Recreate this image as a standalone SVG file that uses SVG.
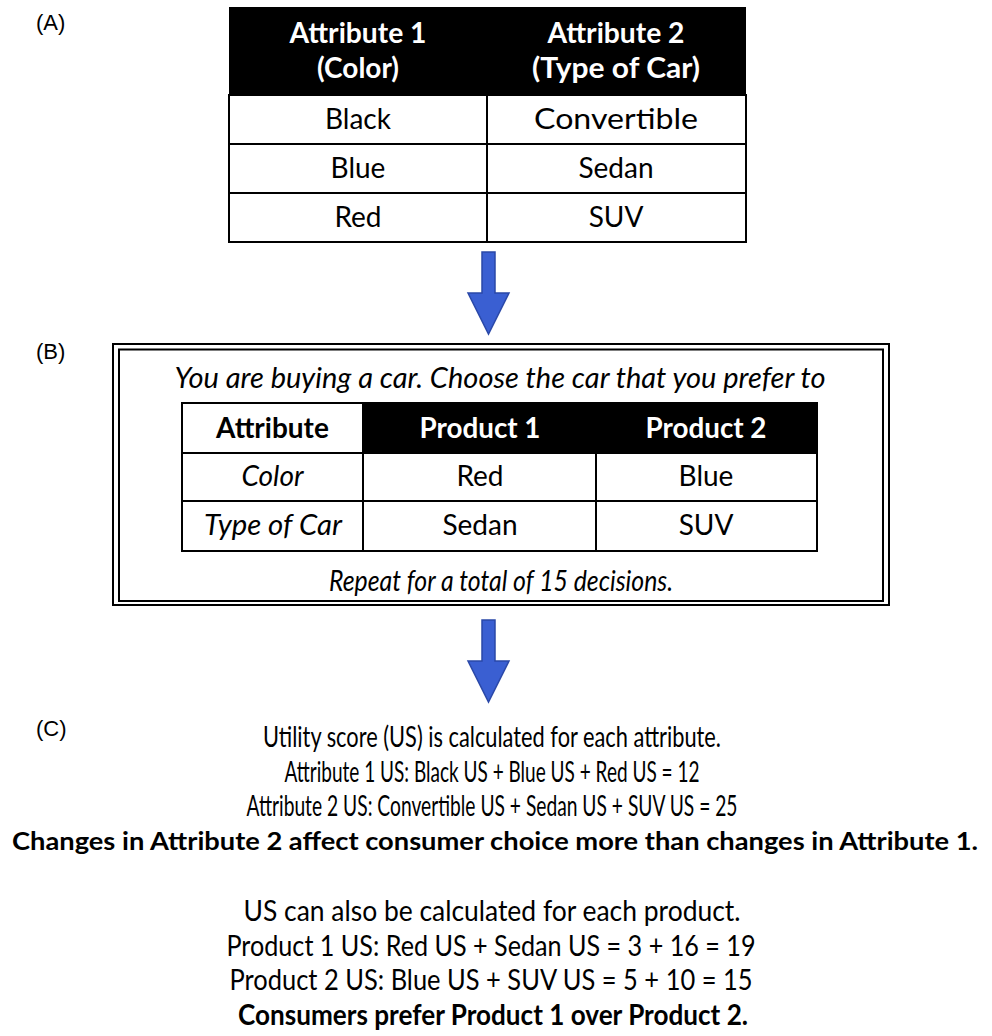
<svg xmlns="http://www.w3.org/2000/svg" width="992" height="1036" viewBox="0 0 992 1036">
<style>
.lbl{font-family:"Liberation Sans",Arial,sans-serif;font-size:22px;fill:#000}
.t{font-family:Lato,"Noto Sans",sans-serif;fill:#000;text-anchor:middle}
.hw{font-weight:bold;fill:#fff;font-size:28px}
.cell{font-size:28px}
.it{font-style:italic}
.grid{fill:none;stroke:#000;stroke-width:2}
.arrow{fill:#3a5fd2;stroke:#2a48a8;stroke-width:1.5}
.p{font-size:28px}
.b{font-weight:bold}
</style>
<rect width="992" height="1036" fill="#fff"/>

<g id="labels">
<text class="lbl" x="36" y="30">(A)</text>
<text class="lbl" x="36" y="359">(B)</text>
<text class="lbl" x="36" y="736">(C)</text>
</g>

<g id="tableA">
<rect x="229" y="7" width="517" height="88" fill="#000"/>
<rect class="grid" x="229" y="95" width="517" height="147"/>
<line class="grid" x1="229" y1="144" x2="746" y2="144"/>
<line class="grid" x1="229" y1="193" x2="746" y2="193"/>
<line class="grid" x1="487" y1="95" x2="487" y2="242"/>
<text class="t hw" x="358" y="43" textLength="137" lengthAdjust="spacingAndGlyphs">Attribute 1</text>
<text class="t hw" x="358" y="78">(Color)</text>
<text class="t hw" x="616" y="43" textLength="137" lengthAdjust="spacingAndGlyphs">Attribute 2</text>
<text class="t hw" x="616" y="78" textLength="168" lengthAdjust="spacingAndGlyphs">(Type of Car)</text>
<text class="t cell" x="358" y="129">Black</text>
<text class="t cell" x="616" y="129" textLength="164" lengthAdjust="spacingAndGlyphs">Convertible</text>
<text class="t cell" x="358" y="178">Blue</text>
<text class="t cell" x="616" y="178">Sedan</text>
<text class="t cell" x="358" y="227">Red</text>
<text class="t cell" x="616" y="227">SUV</text>
</g>

<g id="connectors">
<polygon class="arrow" points="482,252 495,252 495,293 509,293 488.5,334 468,293 482,293"/>
<polygon class="arrow" points="482,620 495,620 495,661 509,661 488.5,702 468,661 482,661"/>
</g>

<g id="boxB">
<rect class="grid" x="113" y="344" width="776" height="261"/>
<rect class="grid" x="119" y="349.5" width="764" height="251.5"/>
<text class="t it cell" x="500" y="388" textLength="651" lengthAdjust="spacingAndGlyphs">You are buying a car. Choose the car that you prefer to</text>
<rect x="363" y="403" width="454" height="50" fill="#000"/>
<rect class="grid" x="182" y="403" width="635" height="148"/>
<line class="grid" x1="182" y1="453" x2="817" y2="453"/>
<line class="grid" x1="182" y1="501" x2="817" y2="501"/>
<line class="grid" x1="363" y1="403" x2="363" y2="551"/>
<line class="grid" x1="596" y1="453" x2="596" y2="551"/>
<text class="t cell b" x="272.5" y="438">Attribute</text>
<text class="t hw" x="480" y="438" textLength="121" lengthAdjust="spacingAndGlyphs">Product 1</text>
<text class="t hw" x="706" y="438" textLength="121" lengthAdjust="spacingAndGlyphs">Product 2</text>
<text class="t cell it" x="272.5" y="486">Color</text>
<text class="t cell" x="480" y="486">Red</text>
<text class="t cell" x="706" y="486">Blue</text>
<text class="t cell it" x="273" y="535" textLength="138" lengthAdjust="spacingAndGlyphs">Type of Car</text>
<text class="t cell" x="480" y="535">Sedan</text>
<text class="t cell" x="706" y="535">SUV</text>
<text class="t cell it" x="501" y="591" textLength="344" lengthAdjust="spacingAndGlyphs">Repeat for a total of 15 decisions.</text>
</g>

<g id="sectionC">
<text class="t p" x="492" y="747" textLength="458" lengthAdjust="spacingAndGlyphs">Utility score (US) is calculated for each attribute.</text>
<text class="t p" x="492" y="782" textLength="415" lengthAdjust="spacingAndGlyphs">Attribute 1 US: Black US + Blue US + Red US = 12</text>
<text class="t p" x="492" y="816" textLength="491" lengthAdjust="spacingAndGlyphs">Attribute 2 US: Convertible US + Sedan US + SUV US = 25</text>
<text class="t b" style="font-size:25px" x="495" y="850" textLength="966" lengthAdjust="spacingAndGlyphs">Changes in Attribute 2 affect consumer choice more than changes in Attribute 1.</text>
<text class="t p" x="492" y="921" textLength="497" lengthAdjust="spacingAndGlyphs">US can also be calculated for each product.</text>
<text class="t p" x="491" y="956" textLength="529" lengthAdjust="spacingAndGlyphs">Product 1 US: Red US + Sedan US = 3 + 16 = 19</text>
<text class="t p" x="491" y="990" textLength="523" lengthAdjust="spacingAndGlyphs">Product 2 US: Blue US + SUV US = 5 + 10 = 15</text>
<text class="t p b" x="493" y="1025" textLength="510" lengthAdjust="spacingAndGlyphs">Consumers prefer Product 1 over Product 2.</text>
</g>
</svg>
